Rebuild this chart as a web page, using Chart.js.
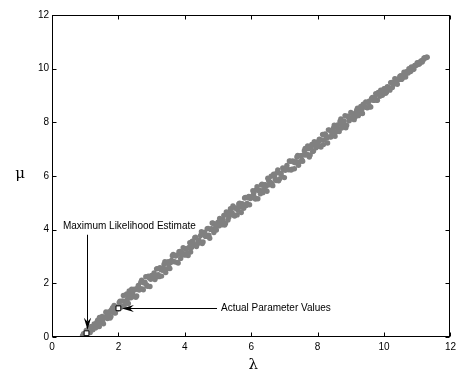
<!DOCTYPE html>
<html>
<head>
<meta charset="utf-8">
<script src="https://cdn.jsdelivr.net/npm/chart.js@4"></script>
<style>
html,body{margin:0;padding:0;background:#fff;}
canvas{display:block;}
</style>
</head>
<body>
<canvas id="c" width="460" height="374"></canvas>
<script>
// ---- data ----
const tickValues = [0, 2, 4, 6, 8, 10, 12];
const mleEstimate = [1.04, 0.14];
const actualValues = [2.0, 1.07];
const annotationLabels = ['Maximum Likelihood Estimate', 'Actual Parameter Values'];
const axisTitles = ['\u03bb', '\u03bc'];

const lambdaVals = [
 0.92,0.95,0.99,1.03,1.07,1.11,1.15,1.19,1.23,1.27,1.31,
 1.35,1.39,1.43,1.47,1.51,1.55,1.59,1.63,1.67,1.71,1.75,1.79,1.83,1.87,1.91,1.95,1.99,
 2.05,2.10,2.15,2.20,2.25,2.30,2.35,2.40,2.45,2.50,2.55,2.60,2.65,2.70,2.75,2.80,2.85,2.90,2.95,3.00,
 3.05,3.10,3.15,3.20,3.25,3.30,3.35,3.40,3.45,3.50,3.55,3.60,3.65,3.70,3.75,3.80,3.85,3.90,3.95,4.00,
 4.05,4.10,4.15,4.20,4.25,4.30,4.35,4.40,4.45,4.50,4.55,4.60,4.65,4.70,4.75,4.80,4.85,4.90,4.95,5.00,
 5.05,5.10,5.15,5.20,5.25,5.30,5.35,5.40,5.45,5.50,5.55,5.60,5.65,5.70,5.75,5.80,5.85,5.90,5.95,6.00,
 6.05,6.10,6.15,6.20,6.25,6.30,6.35,6.40,6.45,6.50,6.55,6.60,6.65,6.70,6.75,6.80,6.85,6.90,6.95,7.00,
 7.05,7.10,7.15,7.20,7.25,7.30,7.35,7.40,7.45,7.50,7.55,7.60,7.65,7.70,7.75,7.80,7.85,7.90,7.95,8.00,
 8.05,8.10,8.15,8.20,8.25,8.30,8.35,8.40,8.45,8.50,8.55,8.60,8.65,8.70,8.75,8.80,8.85,8.90,8.95,9.00,
 9.05,9.10,9.15,9.20,9.25,9.30,9.35,9.40,9.45,9.50,9.55,9.60,9.65,9.70,9.75,9.80,9.85,9.90,9.95,10.00,
 10.05,10.10,10.15,10.20,10.25,10.30,10.35,10.40,10.45,10.50,10.55,10.60,10.65,10.70,10.75,10.80,10.85,10.90,10.95,11.00,
 11.05,11.10,11.15,11.20,11.25,11.30
];
const muVals = [
 0.05,0.12,0.06,0.24,0.14,0.31,0.17,0.38,0.27,0.49,0.34,
 0.55,0.39,0.73,0.55,0.77,0.49,0.73,0.91,0.69,0.89,0.71,1.02,0.93,1.18,0.89,1.12,1.04,
 1.33,1.13,1.55,1.33,1.60,1.25,1.56,1.78,1.51,1.76,1.53,1.92,1.81,2.12,1.76,2.04,1.94,2.27,1.88,2.29,
 2.23,2.14,2.54,2.32,2.58,2.27,2.57,2.81,2.53,2.81,2.55,2.85,3.08,2.80,3.05,2.76,3.19,3.07,3.33,3.05,
 3.28,3.04,3.51,3.34,3.52,3.70,3.37,3.60,3.52,3.92,3.54,3.91,3.76,4.05,3.68,4.04,4.24,4.05,3.99,4.28,
 4.42,4.19,4.37,4.17,4.66,4.36,4.67,4.56,4.88,4.51,4.81,4.72,4.99,4.64,4.94,5.18,4.90,5.19,4.93,5.23,
 5.45,5.20,5.48,5.15,5.46,5.66,5.38,5.67,5.62,5.92,5.67,5.99,5.64,6.00,5.83,6.23,5.89,6.10,6.30,5.94,
 6.30,6.25,6.56,6.22,6.56,6.27,6.53,6.77,6.52,6.76,6.55,6.94,6.78,7.12,6.71,7.08,6.91,7.28,7.05,7.22,
 7.37,7.08,7.55,7.34,7.52,7.23,7.71,7.45,7.66,7.89,7.64,7.90,7.66,8.13,7.91,8.05,7.80,8.23,8.06,8.37,
 8.32,8.10,8.35,8.53,8.32,8.59,8.33,8.57,8.76,8.54,8.79,8.57,8.93,8.82,9.07,8.82,9.06,9.20,9.01,9.25,
 9.08,9.33,9.26,9.48,9.30,9.50,9.61,9.42,9.62,9.74,9.63,9.87,9.69,9.89,10.00,9.89,10.05,9.99,10.13,10.22,
 10.16,10.27,10.25,10.39,10.40,10.43
];

const lambdaVals2 = [
 1.025,1.075,1.125,1.175,1.225,1.275,1.325,1.375,1.425,1.475,1.525,1.575,1.625,1.675,1.725,1.775,1.825,1.875,1.925,1.975,
 2.025,2.075,2.125,2.175,2.225,2.275,2.325,2.375,2.425,2.475,2.525,2.575,2.625,2.675,2.725,2.775,2.825,2.875,2.925,2.975,
 3.025,3.075,3.125,3.175,3.225,3.275,3.325,3.375,3.425,3.475,3.525,3.575,3.625,3.675,3.725,3.775,3.825,3.875,3.925,3.975,
 4.025,4.075,4.125,4.175,4.225,4.275,4.325,4.375,4.425,4.475,4.525,4.575,4.625,4.675,4.725,4.775,4.825,4.875,4.925,4.975,
 5.025,5.075,5.125,5.175,5.225,5.275,5.325,5.375,5.425,5.475,5.525,5.575,5.625,5.675,5.725,5.775,5.825,5.875,5.925,5.975,
 6.025,6.075,6.125,6.175,6.225,6.275,6.325,6.375,6.425,6.475,6.525,6.575,6.625,6.675,6.725,6.775,6.825,6.875,6.925,6.975,
 7.025,7.075,7.125,7.175,7.225,7.275,7.325,7.375,7.425,7.475,7.525,7.575,7.625,7.675,7.725,7.775,7.825,7.875,7.925,7.975,
 8.025,8.075,8.125,8.175,8.225,8.275,8.325,8.375,8.425,8.475,8.525,8.575,8.625,8.675,8.725,8.775,8.825,8.875,8.925,8.975,
 9.025,9.075,9.125,9.175,9.225,9.275,9.325,9.375,9.425,9.475,9.525,9.575,9.625,9.675,9.725,9.775,9.825,9.875,9.925,9.975,
 10.025,10.075,10.125,10.175,10.225,10.275,10.325,10.375,10.425,10.475,10.525,10.575,10.625,10.675,10.725,10.775,10.825,10.875,10.925,10.975,
 11.025,11.075,11.125,11.175,11.225,11.275
];
const muVals2 = [
 0.16,0.26,0.22,0.38,0.29,0.43,0.44,0.63,0.39,0.68,0.57,0.72,0.93,0.77,0.94,0.76,1.09,0.90,1.09,1.05,
 1.29,1.12,1.34,1.17,1.57,1.42,1.72,1.46,1.62,1.78,1.48,1.83,1.75,2.04,1.79,2.01,2.25,1.89,2.21,2.15,
 2.21,2.39,2.23,2.55,2.25,2.52,2.49,2.71,2.40,2.75,2.60,2.78,3.03,2.81,3.02,2.78,3.18,2.93,3.15,3.09,
 3.29,3.12,3.34,3.17,3.57,3.42,3.72,3.46,3.62,3.78,3.48,3.83,3.75,4.04,3.79,4.01,4.25,3.89,4.21,4.15,
 4.14,4.30,4.18,4.53,4.23,4.57,4.46,4.78,4.63,4.55,4.80,4.55,4.96,4.84,4.97,4.80,5.20,4.98,5.24,5.16,
 5.20,5.36,5.14,5.60,5.46,5.34,5.69,5.50,5.68,5.43,5.83,5.77,5.71,6.07,5.87,6.12,5.82,6.09,5.97,6.24,
 6.21,6.39,6.23,6.55,6.25,6.52,6.49,6.71,6.40,6.75,6.60,6.78,7.03,6.81,7.02,6.78,7.18,6.93,7.15,7.09,
 7.29,7.12,7.34,7.17,7.57,7.42,7.72,7.46,7.62,7.78,7.48,7.83,7.75,8.04,7.79,8.01,8.25,7.89,8.21,8.15,
 8.13,8.26,8.19,8.45,8.25,8.51,8.44,8.68,8.59,8.55,8.74,8.58,8.89,8.82,8.92,8.82,9.11,8.97,9.17,9.13,
 9.24,9.13,9.30,9.20,9.49,9.40,9.63,9.46,9.59,9.71,9.60,9.75,9.76,9.89,9.84,9.95,10.06,9.97,10.12,10.13,
 10.21,10.19,10.30,10.31,10.41,10.43
];

const samplePoints = lambdaVals.map((x, i) => ({ x: x, y: muVals[i] }))
  .concat(lambdaVals2.map((x, i) => ({ x: x, y: muVals2[i] })));

const FONT = '"Liberation Sans", Arial, Helvetica, sans-serif';

function arrowHead(ctx, tx, ty, dx, dy) {
  // MATLAB-like notched arrowhead; (dx,dy) unit vector pointing toward tip
  const L = 12, W = 3.6, N = 8;
  const bx = tx - dx * L, by = ty - dy * L;
  const px = -dy, py = dx;
  ctx.beginPath();
  ctx.moveTo(tx, ty);
  ctx.lineTo(bx + px * W, by + py * W);
  ctx.lineTo(tx - dx * N, ty - dy * N);
  ctx.lineTo(bx - px * W, by - py * W);
  ctx.closePath();
  ctx.fill();
}

const decorPlugin = {
  id: 'decor',
  afterDatasetsDraw(chart) {
    const ctx = chart.ctx;
    const xs = chart.scales.x, ys = chart.scales.y;
    ctx.save();
    ctx.strokeStyle = '#000';
    ctx.fillStyle = '#000';
    ctx.lineWidth = 1;
    // MLE annotation: text above, vertical arrow down to the point
    const mx = Math.round(xs.getPixelForValue(mleEstimate[0])) + 0.5;
    const my = ys.getPixelForValue(mleEstimate[1]);
    const lineTop = ys.getPixelForValue(3.81);
    const tipY = my - 3.5;
    ctx.beginPath();
    ctx.moveTo(mx, lineTop);
    ctx.lineTo(mx, tipY - 8);
    ctx.stroke();
    arrowHead(ctx, mx, tipY, 0, 1);
    ctx.font = '10px ' + FONT;
    ctx.textBaseline = 'middle';
    ctx.textAlign = 'left';
    ctx.fillText(annotationLabels[0], xs.getPixelForValue(0.33), ys.getPixelForValue(4.11));
    // Actual parameter annotation: horizontal arrow from the right
    const ax = xs.getPixelForValue(actualValues[0]);
    const ay = Math.round(ys.getPixelForValue(actualValues[1])) + 0.5;
    const tipX = ax + 3.5;
    const lineEnd = xs.getPixelForValue(4.97);
    ctx.beginPath();
    ctx.moveTo(tipX + 8, ay);
    ctx.lineTo(lineEnd, ay);
    ctx.stroke();
    arrowHead(ctx, tipX, ay, -1, 0);
    ctx.fillText(annotationLabels[1], xs.getPixelForValue(5.09), ay);
    ctx.restore();
  },
  afterDraw(chart) {
    const ctx = chart.ctx;
    const xs = chart.scales.x, ys = chart.scales.y;
    const a = chart.chartArea;
    ctx.save();
    ctx.strokeStyle = '#000';
    ctx.lineWidth = 1;
    const L = Math.round(a.left) + 0.5, R = Math.round(a.right) - 0.5;
    const T = Math.round(a.top) + 0.5, B = Math.round(a.bottom) - 0.5;
    ctx.strokeRect(L, T, R - L, B - T);
    const tl = 4;
    ctx.beginPath();
    tickValues.forEach(v => {
      const px = Math.round(xs.getPixelForValue(v)) + 0.5;
      ctx.moveTo(px, B); ctx.lineTo(px, B - tl);
      ctx.moveTo(px, T); ctx.lineTo(px, T + tl);
      const py = Math.round(ys.getPixelForValue(v)) + 0.5;
      ctx.moveTo(L, py); ctx.lineTo(L + tl, py);
      ctx.moveTo(R, py); ctx.lineTo(R - tl, py);
    });
    ctx.stroke();
    // axis titles
    ctx.fillStyle = '#000';
    ctx.font = '15px "DejaVu Serif", "Liberation Serif", serif';
    ctx.textAlign = 'center';
    ctx.textBaseline = 'middle';
    ctx.fillText(axisTitles[0], (a.left + a.right) / 2 + 2, a.bottom + 28);
    ctx.fillText(axisTitles[1], 20, (a.top + a.bottom) / 2 - 2);
    ctx.restore();
  }
};

new Chart(document.getElementById('c'), {
  type: 'scatter',
  data: {
    datasets: [
      {
        label: 'markers',
        data: [ { x: mleEstimate[0], y: mleEstimate[1] }, { x: actualValues[0], y: actualValues[1] } ],
        pointStyle: 'rect',
        pointRadius: 3.4,
        backgroundColor: '#fff',
        borderColor: '#000',
        borderWidth: 1,
        order: 0
      },
      {
        label: 'samples',
        data: samplePoints,
        pointRadius: 2.7,
        pointBorderWidth: 0,
        backgroundColor: 'rgb(128,128,128)',
        borderColor: 'rgb(128,128,128)',
        order: 1
      }
    ]
  },
  options: {
    responsive: false,
    animation: false,
    events: [],
    layout: { padding: { left: 0, right: 7, top: 15, bottom: 0 } },
    plugins: { legend: { display: false }, tooltip: { enabled: false } },
    scales: {
      x: {
        type: 'linear', min: 0, max: 12,
        afterBuildTicks(s) { s.ticks = tickValues.map(v => ({ value: v })); },
        afterFit(s) { s.height = 37; },
        grid: { display: false, drawTicks: false },
        border: { display: false },
        ticks: { padding: 4, color: '#000', font: { size: 10, family: FONT }, maxRotation: 0 }
      },
      y: {
        type: 'linear', min: 0, max: 12,
        afterBuildTicks(s) { s.ticks = tickValues.map(v => ({ value: v })); },
        afterFit(s) { s.width = 52; },
        grid: { display: false, drawTicks: false },
        border: { display: false },
        ticks: { padding: 3, color: '#000', font: { size: 10, family: FONT } }
      }
    }
  },
  plugins: [decorPlugin]
});
</script>
</body>
</html>
